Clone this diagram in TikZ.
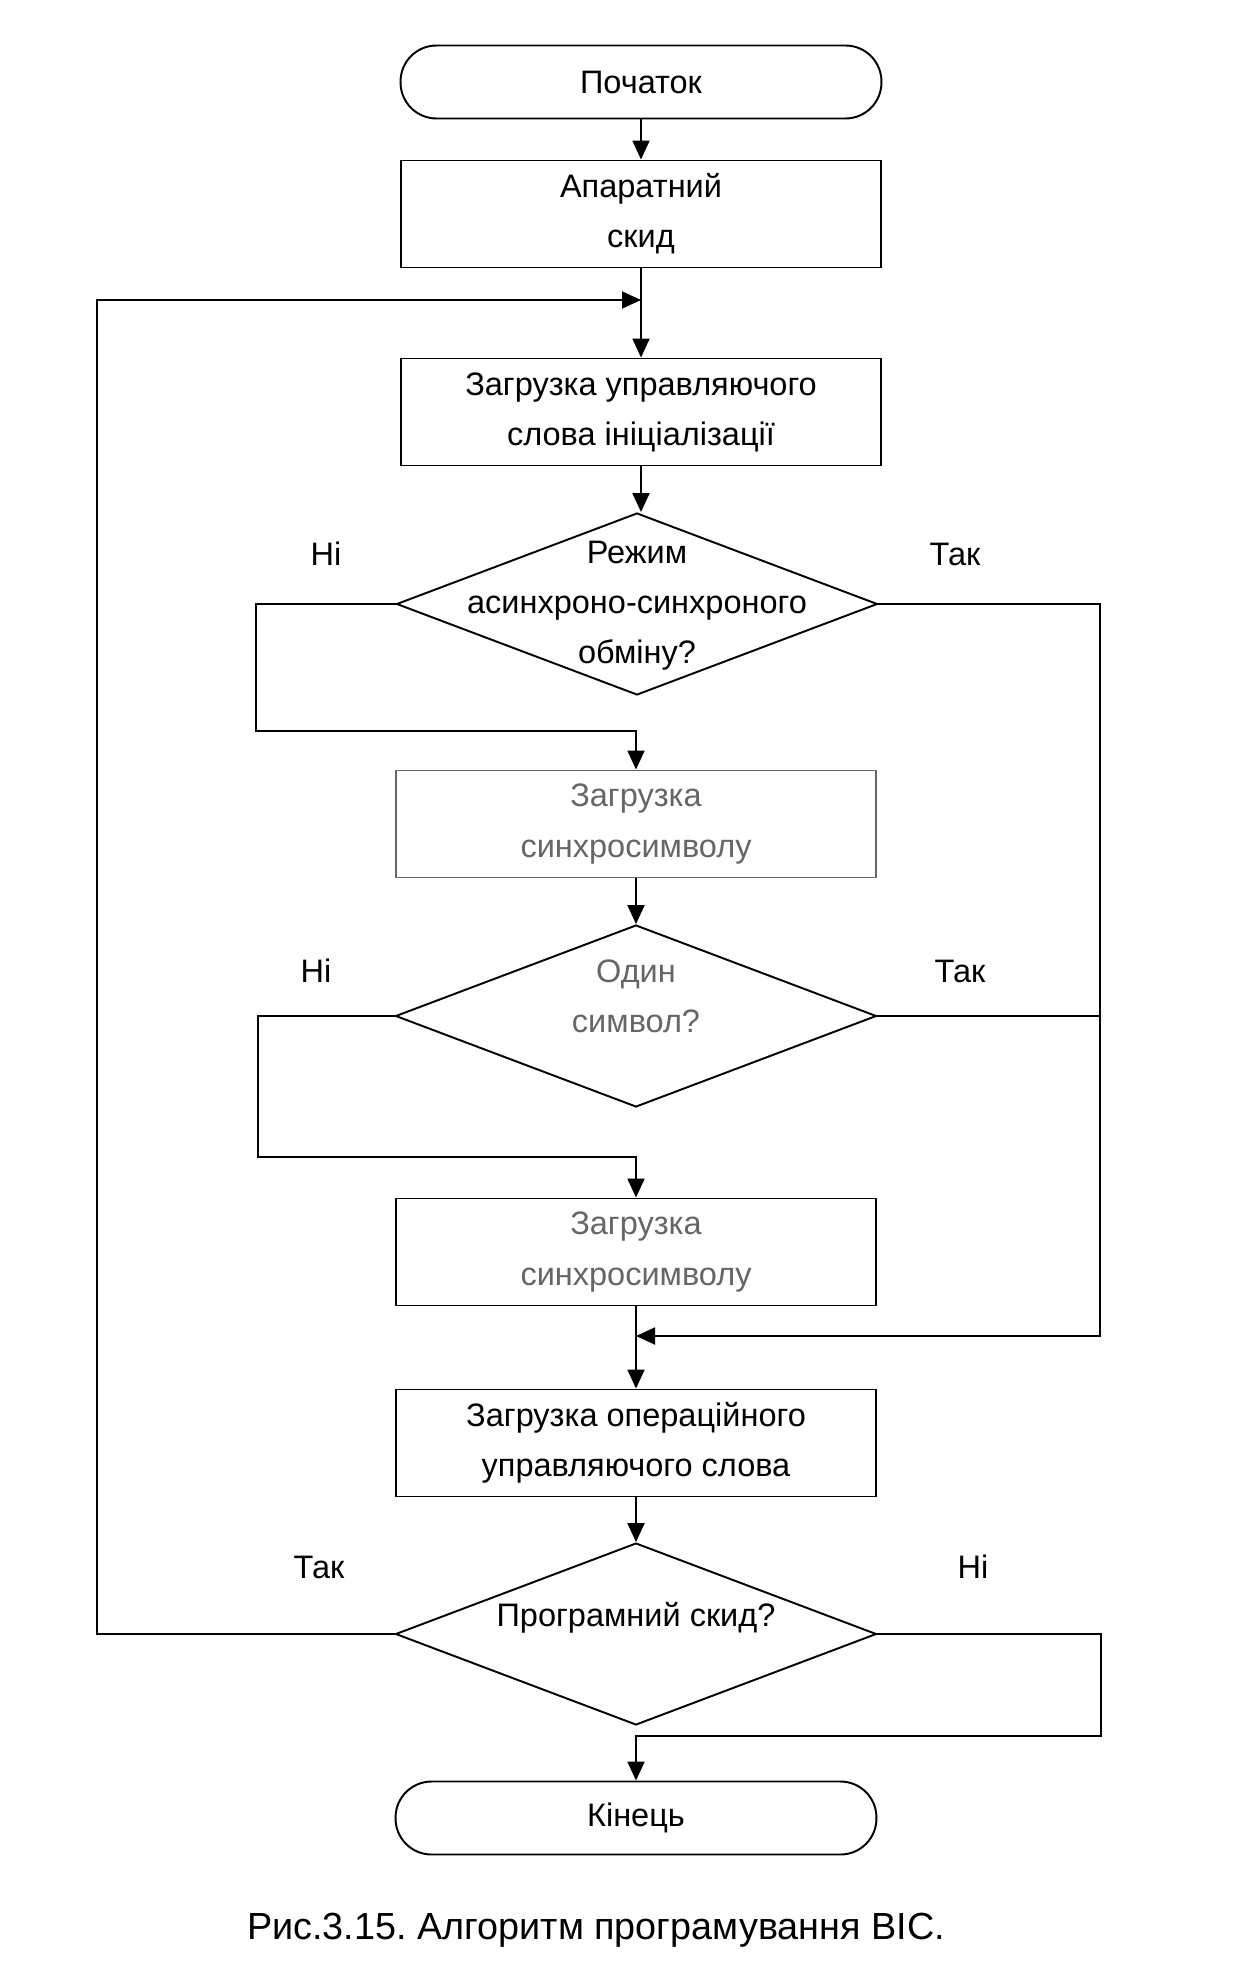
\documentclass[tikz,border=0pt]{standalone}
\usepackage{fontspec}
\setmainfont{Liberation Sans}
\usetikzlibrary{shapes.geometric,arrows.meta}
\definecolor{mygray}{gray}{0.4}

\begin{document}
\frenchspacing
\begin{tikzpicture}[x=0.02cm,y=-0.02cm,
  line width=1.1pt,
  txt/.style={font=\fontsize{18.5}{28.5}\selectfont,align=center},
  arr/.style={-{Triangle[length=0.38cm,width=0.34cm]}},
  term/.style={draw,rectangle,rounded corners=0.72cm,minimum width=9.62cm,minimum height=1.46cm,txt},
  block/.style={draw,rectangle,minimum width=9.62cm,minimum height=2.14cm,txt},
  decision/.style={draw,diamond,minimum width=9.62cm,minimum height=3.64cm,inner sep=0pt}]
  \useasboundingbox (0,0) rectangle (1243,1987);
  % blocks of the algorithm
  \node[term] (start) at (641,82) {Початок};
  \node[block] (reset) at (641,214) {Апаратний\\скид};
  \node[block] (init) at (641,412) {Загрузка управляючого\\слова ініціалізації};
  \node[decision] (mode) at (637,604) {};
    \node[txt] (modet) at (637,606) {Режим\\асинхроно-синхроного\\обміну?};
  \node[block,draw=mygray,text=mygray] (sync1) at (636,824) {Загрузка\\синхросимволу};
  \node[decision] (one) at (636,1016) {};
    \node[txt,text=mygray] (onet) at (636,996) {Один\\символ?};
  \node[block,text=mygray] (sync2) at (636,1252) {Загрузка\\синхросимволу};
  \node[block] (opword) at (636,1443) {Загрузка операційного\\управляючого слова};
  \node[decision] (soft) at (636,1634) {};
    \node[txt] (softt) at (636,1618) {Програмний скид?};
  \node[term] (stop) at (636,1818) {Кінець};
  % branch labels
  \node[txt] (no1) at (326,554) {Ні};
  \node[txt] (yes1) at (955,554) {Так};
  \node[txt] (no2) at (316,971) {Ні};
  \node[txt] (yes2) at (960,971) {Так};
  \node[txt] (yes3) at (319,1567) {Так};
  \node[txt] (no3) at (973,1567) {Ні};
  % turning points
  \coordinate (loop) at (641,300);
  \coordinate (join) at (636,1336);
  \coordinate (l1) at (256,731);
  \coordinate (l2) at (258,1157);
  \coordinate (l3) at (97,300);
  \coordinate (r1) at (1100,1336);
  \coordinate (r3) at (1101,1736);
  % connectors
  \draw[arr] (start) -- (reset);
  \draw[arr] (reset) -- (init);
  \draw[arr] (init.south) -- (init.south |- mode.north);
  \draw[arr] (mode.west) -| (l1) -| (sync1.north);
  \draw[arr] (mode.east) -| (r1) -- (join);
  \draw[arr] (sync1) -- (one.north);
  \draw (one.east) -- (one.east -| r1);
  \draw[arr] (one.west) -| (l2) -| (sync2.north);
  \draw[arr] (sync2) -- (opword);
  \draw[arr] (opword) -- (soft.north);
  \draw[arr] (soft.west) -| (l3) -- (loop);
  \draw[arr] (soft.east) -| (r3) -| (stop.north);
  % caption
  \node[font=\fontsize{21.5}{25}\selectfont] (caption) at (596,1930) {Рис.3.15. Алгоритм програмування ВІС.};
\end{tikzpicture}
\end{document}
